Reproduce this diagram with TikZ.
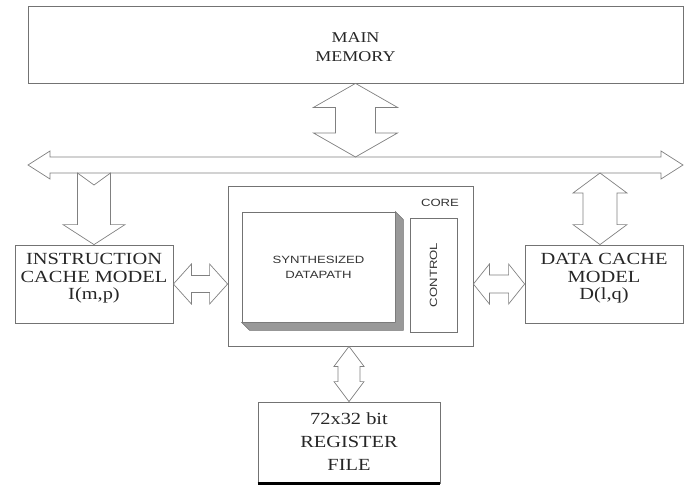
\documentclass[tikz,border=0pt]{standalone}
\usepackage{fontspec}
\usepackage{graphicx}
\newfontfamily\boxfont[FakeStretch=1.2]{Liberation Serif}
\newfontfamily\tagfont[FakeStretch=1.25]{Liberation Sans}
\usetikzlibrary{calc}

% block arrows: #1 first end, #2 second end, #3 shaft half width, #4 head half width, #5 head length
\newcommand{\vblock}[5]{%
  \draw[blockarrow] let \p1=(#1), \p2=(#2) in
    (\x1,\y1) -- (\x1+#4,\y1-#5) -- (\x1+#3,\y1-#5) -- (\x1+#3,\y2+#5) -- (\x1+#4,\y2+#5)
    -- (\x1,\y2) -- (\x1-#4,\y2+#5) -- (\x1-#3,\y2+#5) -- (\x1-#3,\y1-#5) -- (\x1-#4,\y1-#5) -- cycle;}
\newcommand{\hblock}[5]{%
  \draw[blockarrow] let \p1=(#1), \p2=(#2) in
    (\x1,\y1) -- (\x1+#5,\y1+#4) -- (\x1+#5,\y1+#3) -- (\x2-#5,\y1+#3) -- (\x2-#5,\y1+#4)
    -- (\x2,\y1) -- (\x2-#5,\y1-#4) -- (\x2-#5,\y1-#3) -- (\x1+#5,\y1-#3) -- (\x1+#5,\y1-#4) -- cycle;}
% one headed, with a notch at the top: #6 notch depth
\newcommand{\notchblock}[6]{%
  \draw[blockarrow] let \p1=(#1), \p2=(#2) in
    (\x1-#3,\y1) -- (\x1,\y1-#6) -- (\x1+#3,\y1) -- (\x1+#3,\y2+#5) -- (\x1+#4,\y2+#5)
    -- (\x1,\y2) -- (\x1-#4,\y2+#5) -- (\x1-#3,\y2+#5) -- cycle;}

\begin{document}
\begin{tikzpicture}[x=1pt, y=-1pt, line width=0.8pt,
    box/.style={draw=black!55, rectangle, inner sep=0pt},
    boxtext/.style={inner sep=0pt, align=center, text=black!85,
      font=\boxfont\fontsize{17}{17.5}\selectfont},
    tag/.style={inner sep=0pt, align=center, text=black!80,
      font=\tagfont\fontsize{10.5}{15}\selectfont},
    blockarrow/.style={draw=black!50, line width=0.7pt, line join=miter}]
  \useasboundingbox (0,0) rectangle (689,485);

  \node[box, minimum width=655, minimum height=77] (MainMem) at (355.5,44.5) {};
  \node[boxtext, font=\boxfont\fontsize{15}{19}\selectfont] (MainMemLbl) at (355.5,47.5) {MAIN\\MEMORY};

  \coordinate (BusL) at (28,165);
  \coordinate (BusR) at (683,165);
  \coordinate (BusTop) at (0,157);
  \coordinate (BusBot) at (0,173);

  \node[box, minimum width=158, minimum height=78] (ICache) at (94,284) {};
  \node[boxtext] (ICacheLbl) at (94,278.5) {INSTRUCTION\\CACHE MODEL\\I(m,p)};
  \node[box, minimum width=158, minimum height=78] (DCache) at (604,284) {};
  \node[boxtext] (DCacheLbl) at (604,278.5) {DATA CACHE\\MODEL\\D(l,q)};
  \coordinate (DTap) at (600,173);

  \node[box, minimum width=245, minimum height=160] (Core) at (350.5,266) {};
  \node[tag] (CoreLbl) at (440,203) {CORE};
    \node[box, fill=white, minimum width=153, minimum height=110, tag] (Datapath) at (318.5,267)
      {SYNTHESIZED\\DATAPATH};
    \fill[black!40, draw=black!55, line width=0.5pt] (Datapath.north east) -- ++(8,8)
      -- ($(Datapath.south east)+(8,8)$) -- ($(Datapath.south west)+(8,8)$)
      -- (Datapath.south west) -- (Datapath.south east) -- cycle;
    \node[box, minimum width=47, minimum height=114, tag] (Control) at (433.5,275)
      {\rotatebox{90}{CONTROL}};

  \node[box, minimum width=182, minimum height=81] (RegFile) at (349,442.5) {};
  \node[boxtext, font=\boxfont\fontsize{17}{23}\selectfont] (RegFileLbl) at (349,442)
    {72x32 bit\\REGISTER\\FILE};
  \draw[line width=3pt] (RegFile.south west) -- (RegFile.south east);

  \hblock{BusL}{BusR}{8}{14}{22}
  \vblock{MainMem.south}{MainMem.south |- BusTop}{20}{42}{24}
  \notchblock{ICache.north |- BusBot}{ICache.north}{16.5}{31}{20}{12}
  \vblock{DTap}{DTap |- DCache.north}{17}{27}{20}
  \hblock{ICache.east}{ICache.east -| Core.west}{8.5}{20}{18}
  \hblock{DCache.west -| Core.east}{DCache.west}{9}{20}{16}
  \vblock{RegFile.north |- Core.south}{RegFile.north}{11}{15}{20}
\end{tikzpicture}
\end{document}
